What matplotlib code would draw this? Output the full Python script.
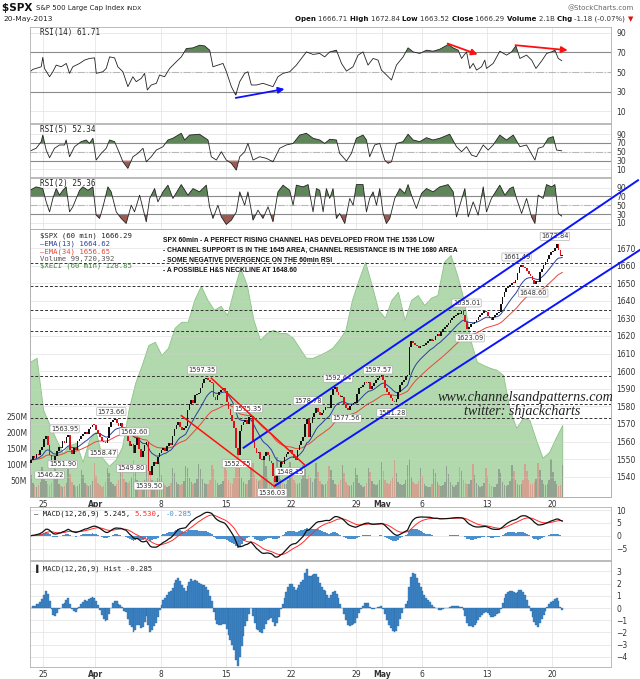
import numpy as np
import pandas as pd
import matplotlib
matplotlib.use('Agg')
import matplotlib.pyplot as plt
from matplotlib import font_manager

# ---- data (hourly SPX bars, 22-Mar-2013 .. 20-May-2013) ----
closes = [
    1549.5, 1551.8, 1550.6, 1553.1, 1552.4, 1555.2, 1556.9,   # Mar 22
    1561.5, 1563.4, 1557.8, 1552.6, 1548.9, 1547.3, 1551.7,   # Mar 25
    1554.8, 1557.1, 1556.2, 1560.2, 1559.0, 1562.4, 1563.8,   # Mar 26
    1555.0, 1553.2, 1556.4, 1555.1, 1560.3, 1561.2, 1562.9,   # Mar 27
    1564.2, 1565.6, 1564.1, 1567.4, 1568.3, 1569.5, 1569.2,   # Mar 28
    1566.3, 1564.8, 1562.7, 1560.5, 1559.6, 1559.2, 1562.2,   # Apr 1
    1568.4, 1571.2, 1572.4, 1572.9, 1570.8, 1569.1, 1570.3,   # Apr 2
    1568.5, 1566.2, 1567.8, 1560.1, 1557.4, 1558.5, 1553.7,   # Apr 3
    1558.3, 1561.8, 1555.6, 1551.2, 1554.5, 1557.8, 1560.0,   # Apr 4
    1543.2, 1540.8, 1545.9, 1548.6, 1547.2, 1551.1, 1553.3,   # Apr 5
    1555.1, 1556.4, 1554.9, 1557.2, 1559.4, 1558.3, 1563.1,   # Apr 8
    1567.2, 1569.5, 1571.0, 1568.3, 1566.4, 1567.5, 1568.6,   # Apr 9
    1578.0, 1581.2, 1583.4, 1582.1, 1586.3, 1587.1, 1587.7,   # Apr 10
    1590.2, 1593.4, 1595.6, 1596.3, 1595.1, 1594.0, 1593.4,   # Apr 11
    1585.3, 1583.9, 1586.7, 1588.0, 1589.1, 1590.2, 1588.9,   # Apr 12
    1582.4, 1578.3, 1575.1, 1571.6, 1567.9, 1556.4, 1552.4,   # Apr 15
    1566.2, 1569.3, 1571.1, 1572.4, 1570.2, 1574.1, 1574.6,   # Apr 16
    1560.3, 1556.1, 1553.4, 1554.2, 1550.3, 1549.4, 1552.0,   # Apr 17
    1554.1, 1552.3, 1549.1, 1547.6, 1540.2, 1537.3, 1541.6,   # Apr 18
    1545.0, 1548.2, 1547.1, 1551.3, 1553.0, 1554.2, 1555.3,   # Apr 19
    1553.1, 1550.9, 1549.3, 1555.2, 1558.1, 1560.4, 1562.5,   # Apr 22
    1570.2, 1573.1, 1562.8, 1570.3, 1574.1, 1576.2, 1578.8,   # Apr 23
    1576.9, 1575.2, 1576.3, 1578.1, 1579.8, 1579.1, 1578.8,   # Apr 24
    1586.2, 1590.1, 1591.2, 1588.1, 1586.3, 1585.1, 1585.2,   # Apr 25
    1581.2, 1579.1, 1578.2, 1580.1, 1581.3, 1582.0, 1582.2,   # Apr 26
    1587.3, 1590.2, 1591.1, 1592.2, 1594.0, 1593.2, 1593.6,   # Apr 29
    1590.1, 1591.3, 1593.2, 1595.1, 1596.2, 1597.0, 1597.6,   # Apr 30
    1595.1, 1590.2, 1588.1, 1586.3, 1585.0, 1583.1, 1582.7,   # May 1
    1584.2, 1588.1, 1592.0, 1594.1, 1595.2, 1597.0, 1597.6,   # May 2
    1614.0, 1617.2, 1616.1, 1615.0, 1614.2, 1613.1, 1614.4,   # May 3
    1614.2, 1615.1, 1616.0, 1617.2, 1618.1, 1617.0, 1617.5,   # May 6
    1620.2, 1621.1, 1620.0, 1622.1, 1624.0, 1625.2, 1626.0,   # May 7
    1627.1, 1629.0, 1630.2, 1631.1, 1632.0, 1633.1, 1632.7,   # May 8
    1634.2, 1632.1, 1628.0, 1624.1, 1625.2, 1627.0, 1626.7,   # May 9
    1628.1, 1629.2, 1631.0, 1632.1, 1633.0, 1634.1, 1633.7,   # May 10
    1631.1, 1630.0, 1629.2, 1631.0, 1632.1, 1633.0, 1633.8,   # May 13
    1638.1, 1642.0, 1645.2, 1647.1, 1648.0, 1649.2, 1650.3,   # May 14
    1650.2, 1652.1, 1656.0, 1659.2, 1660.1, 1659.0, 1658.8,   # May 15
    1657.1, 1655.0, 1654.2, 1652.1, 1649.3, 1651.0, 1650.5,   # May 16
    1656.2, 1658.0, 1660.1, 1662.2, 1664.0, 1666.1, 1667.5,   # May 17
    1668.2, 1670.1, 1672.0, 1669.1, 1665.2, 1666.29,          # May 20
]
first_open = 1548.0

# hourly volume, millions
volumes = [
    70, 45, 38, 32, 36, 48, 95,    80, 50, 42, 38, 45, 60, 110,
    65, 42, 35, 30, 33, 44, 88,    72, 46, 36, 30, 34, 42, 85,
    68, 44, 36, 34, 38, 50, 105,   66, 45, 38, 32, 35, 46, 90,
    75, 48, 40, 34, 40, 52, 98,    82, 55, 46, 44, 50, 62, 115,
    78, 52, 40, 36, 42, 54, 100,   110, 70, 52, 45, 48, 58, 108,
    70, 45, 36, 30, 34, 44, 90,    74, 48, 40, 36, 40, 50, 96,
    90, 58, 46, 40, 44, 56, 104,   86, 55, 44, 40, 42, 52, 100,
    88, 54, 44, 38, 40, 50, 98,    84, 52, 44, 42, 60, 95, 130,
    90, 58, 46, 40, 42, 52, 100,   105, 68, 55, 50, 54, 64, 120,
    96, 62, 50, 46, 58, 72, 125,   92, 56, 44, 40, 42, 52, 110,
    80, 52, 44, 40, 44, 56, 100,   88, 55, 70, 60, 48, 56, 105,
    78, 50, 40, 36, 40, 50, 96,    84, 54, 42, 38, 42, 52, 100,
    76, 48, 38, 34, 38, 48, 92,    70, 44, 36, 30, 34, 44, 90,
    78, 50, 40, 36, 40, 52, 110,   82, 54, 44, 40, 50, 62, 115,
    74, 48, 40, 36, 40, 52, 100,   120, 64, 48, 40, 42, 50, 92,
    66, 42, 34, 30, 32, 42, 86,    74, 48, 38, 34, 38, 48, 96,
    72, 46, 36, 32, 36, 46, 94,    80, 52, 44, 40, 42, 52, 102,
    70, 44, 36, 32, 34, 44, 90,    66, 42, 34, 30, 32, 42, 88,
    76, 48, 38, 34, 38, 50, 100,   82, 52, 42, 38, 42, 54, 104,
    80, 52, 42, 40, 46, 56, 106,   84, 54, 42, 36, 40, 52, 120,
    78, 50, 40, 34, 38, 100,
]

# $XELI (60 min) overlay, sampled twice a day
xeli = [
    130.43, 130.53, 129.23, 128.85, 128.48, 128.15, 128.35, 128.40, 127.93, 128.48,
    128.68, 128.03, 127.83, 127.98, 128.30, 129.23, 129.90, 130.35, 130.85, 130.93,
    130.60, 130.78, 131.28, 131.43, 131.43, 131.98, 132.33, 131.98, 131.73, 131.83,
    131.60, 132.23, 132.78, 132.35, 131.48, 130.98, 131.15, 131.23, 131.15, 131.15,
    131.03, 130.78, 130.53, 130.53, 130.60, 130.68, 130.78, 130.98, 131.23, 131.98,
    132.48, 132.93, 132.35, 131.73, 131.53, 131.98, 132.18, 131.48, 131.98, 132.10,
    131.85, 132.03, 132.10, 132.93, 133.10, 132.60, 131.98, 130.98, 130.43, 130.35,
    130.28, 130.23, 130.10, 129.23, 128.78, 129.03, 128.98, 128.48, 128.03, 128.18,
    128.53, 128.85,
]

# RSI readings: (trading day, value)
rsi14_days = [0.0, 0.21, 0.86, 0.98, 1.11, 1.50, 1.75, 2.01, 2.39, 2.78, 3.03, 3.28, 3.80, 4.18,
              4.56, 4.95, 5.08, 5.58, 5.84, 6.10, 6.48, 6.73, 7.12, 7.50, 7.88, 8.14, 8.53, 8.78,
              8.99, 9.29, 9.68, 9.93, 10.31, 10.70, 11.21, 11.60, 11.98, 12.48, 13.00, 13.38,
              13.77, 14.02, 14.40, 14.79, 15.05, 15.43, 15.76, 16.07, 16.45, 16.70, 16.96,
              17.35, 17.85, 18.24, 18.62, 19.00, 19.39, 19.90, 20.41, 20.80, 21.18, 21.69,
              22.20, 22.58, 22.97, 23.48, 23.87, 24.25, 24.75, 25.14, 25.52, 25.90, 26.29,
              26.67, 26.93, 27.32, 27.70, 28.08, 28.59, 28.97, 29.36, 29.87, 30.38, 30.89,
              31.40, 32.04, 32.42, 32.81, 33.07, 33.45, 33.70, 33.96, 34.22, 34.60, 34.85,
              34.98, 35.49, 36.00, 36.52, 36.90, 37.23, 37.54, 38.05, 38.44, 38.77, 39.20,
              39.59, 39.97, 40.22, 40.48, 40.74]
rsi14_vals = [50.3, 52.7, 55.4, 65.0, 53.7, 45.2, 50.3, 57.1, 55.4, 58.8, 48.7, 55.4, 58.8, 62.2,
              63.9, 64.5, 48.7, 50.3, 53.7, 65.5, 64.5, 55.4, 50.3, 35.1, 45.2, 40.2, 43.6, 48.7,
              31.7, 36.8, 38.5, 47.0, 45.2, 53.7, 60.5, 65.5, 74.0, 74.7, 77.4, 76.7,
              72.3, 55.4, 57.1, 58.8, 50.3, 35.1, 26.6, 40.2, 48.7, 50.3, 36.8,
              36.8, 38.5, 36.8, 35.1, 45.2, 48.7, 50.3, 57.1, 63.9, 70.6, 68.0,
              69.0, 65.5, 70.6, 72.3, 58.8, 51.0, 55.4, 67.3, 70.6, 57.1, 63.9,
              62.2, 52.0, 47.0, 41.9, 57.1, 65.5, 74.7, 70.6, 69.0, 72.3, 71.3,
              73.3, 78.1, 74.7, 72.3, 63.9, 70.6, 53.7, 58.8, 52.0, 55.4, 62.2,
              53.7, 58.8, 71.3, 67.3, 70.6, 76.7, 63.9, 67.3, 62.2, 53.7, 61.2,
              69.0, 70.6, 72.3, 63.9, 61.7]

rsi5_days = [0.0, 0.47, 0.86, 0.98, 1.24, 1.50, 1.88, 2.26, 2.65, 2.77, 3.03, 3.41, 3.92, 4.31,
             4.56, 4.82, 5.07, 5.46, 5.84, 6.10, 6.48, 6.86, 7.12, 7.50, 7.89, 8.27, 8.66, 8.91,
             9.29, 9.68, 10.19, 10.57, 10.95, 11.59, 11.85, 12.23, 12.99, 13.64, 13.89, 14.28,
             14.66, 15.04, 15.43, 15.81, 16.07, 16.45, 16.70, 17.09, 17.60, 18.11, 18.62, 19.13,
             19.64, 20.16, 20.67, 21.18, 21.69, 22.20, 22.58, 22.97, 23.48, 23.73, 24.25, 24.63,
             25.01, 25.52, 25.78, 26.03, 26.41, 26.80, 27.18, 27.44, 27.70, 28.08, 28.59, 28.97,
             29.36, 29.87, 30.38, 30.89, 31.40, 32.16, 32.68, 33.07, 33.45, 33.83, 34.21, 34.73,
             35.11, 35.49, 36.00, 36.51, 37.03, 37.54, 38.05, 38.69, 38.94, 39.32, 39.71, 40.09,
             40.35, 40.74]
rsi5_vals = [51.8, 58.0, 73.0, 88.0, 54.0, 36.6, 58.0, 65.5, 65.5, 76.8, 38.9, 61.6, 73.0, 76.8,
             69.0, 80.7, 31.4, 46.6, 58.0, 76.8, 73.0, 46.6, 27.5, 12.5, 38.9, 46.6, 58.0, 27.5,
             38.9, 54.0, 61.6, 76.8, 80.7, 92.0, 76.8, 88.0, 89.8, 76.8, 38.9, 31.4,
             50.2, 31.4, 23.9, 8.6, 38.9, 50.2, 69.0, 31.4, 38.9, 35.2, 27.5, 58.0,
             65.5, 69.0, 88.0, 92.0, 80.7, 76.8, 69.0, 78.4, 76.8, 46.6, 29.0, 46.6,
             80.7, 88.0, 76.8, 38.9, 65.5, 69.0, 31.4, 23.9, 27.5, 69.0, 73.0, 89.8,
             76.8, 73.0, 82.0, 76.8, 80.7, 89.8, 61.6, 50.2, 61.6, 42.7, 38.9, 65.5,
             54.0, 65.5, 88.0, 76.8, 88.0, 61.6, 65.5, 31.4, 58.0, 61.6, 80.7, 84.4,
             54.0, 52.3]

rsi2_days = [0.0, 0.47, 0.98, 1.24, 1.50, 1.75, 2.01, 2.26, 2.52, 2.77, 3.03, 3.28, 3.80, 4.05,
             4.44, 4.82, 5.07, 5.33, 5.59, 5.97, 6.22, 6.61, 6.99, 7.37, 7.76, 8.01, 8.40, 8.91,
             9.17, 9.55, 9.80, 10.19, 10.57, 10.95, 11.59, 12.10, 12.49, 12.99, 13.51, 13.76,
             14.02, 14.40, 14.66, 15.04, 15.43, 15.81, 16.07, 16.45, 16.70, 17.09, 17.47, 17.85,
             18.24, 18.62, 19.00, 19.39, 19.90, 20.16, 20.41, 20.92, 21.31, 21.69, 21.95, 22.20,
             22.46, 22.71, 22.97, 23.22, 23.48, 23.73, 24.12, 24.50, 24.76, 25.01, 25.52, 25.78,
             26.03, 26.29, 26.55, 26.80, 27.06, 27.31, 27.57, 27.95, 28.34, 28.72, 28.97, 29.23,
             29.61, 30.00, 30.38, 30.89, 31.40, 32.04, 32.43, 32.68, 32.94, 33.32, 33.58, 33.96,
             34.34, 34.73, 34.98, 35.36, 35.75, 36.00, 36.39, 36.77, 37.03, 37.28, 37.67, 38.05,
             38.43, 38.69, 38.94, 39.32, 39.58, 39.97, 40.22, 40.48, 40.74]
rsi2_vals = [84.0, 91.8, 88.0, 57.7, 35.0, 65.5, 88.0, 73.0, 84.0, 91.8, 35.0, 46.4, 84.0, 91.8,
             84.0, 91.8, 27.5, 20.0, 46.4, 91.8, 80.5, 35.0, 20.0, 8.6, 50.2, 35.0, 73.0, 12.3,
             65.5, 88.0, 57.7, 80.5, 95.7, 65.5, 97.0, 73.0, 88.0, 80.5, 95.7, 46.4,
             20.0, 50.2, 23.6, 6.4, 16.1, 35.0, 80.5, 50.2, 80.5, 16.1, 38.9, 20.0,
             46.4, 12.3, 80.5, 95.7, 84.0, 50.2, 95.7, 91.8, 97.0, 35.0, 88.0, 84.0,
             35.0, 88.0, 65.5, 88.0, 20.0, 31.4, 8.6, 65.5, 50.2, 97.0, 97.0, 35.0,
             65.5, 80.5, 50.2, 88.0, 31.4, 8.6, 20.0, 65.5, 88.0, 76.8, 97.0, 73.0,
             42.7, 76.8, 88.0, 80.5, 91.8, 97.0, 80.5, 23.6, 50.2, 88.0, 23.6, 57.7,
             27.5, 91.8, 35.0, 65.5, 84.0, 95.7, 73.0, 88.0, 91.8, 65.5, 31.4, 65.5,
             23.6, 8.6, 73.0, 65.5, 97.0, 91.8, 97.0, 31.4, 25.4]

# price labels: (trading-day position, price position, text)
label_days = [1.5, 2.65, 2.5, 5.58, 6.23, 8.0, 7.76, 9.09, 13.18, 16.7, 15.86, 18.57,
              19.9, 21.3, 23.6, 24.25, 26.67, 27.7, 33.45, 33.7, 37.28, 38.56, 40.22]
label_prices = [1541.0, 1567.2, 1547.1, 1553.4, 1577.0, 1565.5, 1544.8, 1534.8, 1600.7,
                1578.7, 1547.4, 1531.0, 1542.9, 1583.2, 1596.0, 1573.2, 1600.7, 1576.4,
                1638.75, 1618.9, 1664.9, 1644.4, 1676.6]
label_texts = ['1546.22', '1563.95', '1551.90', '1558.47', '1573.66', '1562.60', '1549.80',
               '1539.50', '1597.35', '1575.35', '1552.75', '1536.03', '1548.15', '1578.78',
               '1592.64', '1577.56', '1597.57', '1581.28', '1635.01', '1623.09', '1661.49',
               '1648.60', '1672.84']

levels = [1661.49, 1648.60, 1635.01, 1623.09, 1597.46, 1581.28, 1573.66]

tick_days = [1, 5, 10, 15, 20, 25, 27, 30, 35, 40]
tick_names = ['25', 'Apr', '8', '15', '22', '29', 'May', '6', '13', '20']

notes = ['SPX 60min - A PERFECT RISING CHANNEL HAS DEVELOPED FROM THE 1536 LOW',
         '- CHANNEL SUPPORT IS IN THE 1645 AREA, CHANNEL RESISTANCE IS IN THE 1680 AREA',
         '- SOME NEGATIVE DIVERGENCE ON THE 60min RSI',
         '- A POSSIBLE H&S NECKLINE AT 1648.60']

# ---- derived series ----
c = np.array(closes)
x = np.array([d + (h + 0.5) / 7 for d in range(41) for h in range(7 if d < 40 else 6)])
o = np.concatenate([[first_open], c[:-1]])
up = c >= o
s = pd.Series(c)
ema13 = s.ewm(span=13, adjust=False).mean()
ema34 = s.ewm(span=34, adjust=False).mean()
macd = s.ewm(span=12, adjust=False).mean() - s.ewm(span=26, adjust=False).mean()
signal = macd.ewm(span=9, adjust=False).mean()
hist = (macd - signal).values

W, H = 640, 679
XMAX = 44.52
fig = plt.figure(figsize=(6.4, 6.79), dpi=100)
fig.patch.set_facecolor('white')
installed = {f.name for f in font_manager.fontManager.ttflist}


def rect(top, bot):
    return [30 / W, 1 - bot / H, 581 / W, (bot - top) / H]


def style(ax, yt, ylim):
    ax.set_xlim(0, XMAX)
    ax.set_ylim(*ylim)
    ax.set_yticks(yt)
    ax.yaxis.tick_right()
    ax.tick_params(axis='y', labelsize=5.5, length=0, pad=4, colors='#333333')
    ax.set_xticks(tick_days)
    ax.tick_params(axis='x', length=0, labelbottom=False)
    ax.grid(True, color='#e2e2e2', lw=0.5)
    ax.set_axisbelow(True)
    for sp in ax.spines.values():
        sp.set_color('#b0b0b0')
        sp.set_linewidth(0.6)


def date_labels(ax):
    ax.set_xticks(tick_days)
    ax.set_xticklabels(tick_names)
    ax.tick_params(axis='x', labelbottom=True, labelsize=5.5, length=0, pad=2, colors='#333333')
    for t in ax.get_xticklabels():
        if t.get_text() in ('Apr', 'May'):
            t.set_fontweight('bold')


def rsi_panel(ax, days, vals, ylim, label):
    days = np.array(days)
    r = np.array(vals)
    style(ax, [10, 30, 50, 70, 90], ylim)
    ax.axhline(70, color='#8a8a8a', lw=0.8)
    ax.axhline(30, color='#8a8a8a', lw=0.8)
    ax.axhline(50, color='#b8b8b8', lw=0.8, ls='-.')
    ax.fill_between(days, r, 70, where=r >= 70, interpolate=True, color='#5f8658', lw=0)
    ax.fill_between(days, r, 30, where=r <= 30, interpolate=True, color='#9b5a52', lw=0)
    ax.plot(days, r, color='#222222', lw=0.6)
    ax.text(0.018, 0.985, label, transform=ax.transAxes, va='top', fontsize=5.5,
            family='DejaVu Sans Mono', color='#222222')


ax14 = fig.add_axes(rect(27, 123))
rsi_panel(ax14, rsi14_days, rsi14_vals, (-2, 96), 'RSI(14) 61.71')
ax5 = fig.add_axes(rect(124, 177))
rsi_panel(ax5, rsi5_days, rsi5_vals, (-7, 113), 'RSI(5) 52.34')
ax2 = fig.add_axes(rect(178, 229))
rsi_panel(ax2, rsi2_days, rsi2_vals, (-4, 112), 'RSI(2) 25.36')

arrow_kw = dict(arrowstyle='-|>', lw=1.3, mutation_scale=9, shrinkA=0, shrinkB=0)
ax14.annotate('', xy=(19.5, 32.7), xytext=(15.76, 23.6), arrowprops=dict(color='#1010ff', **arrow_kw))
ax14.annotate('', xy=(34.3, 68.0), xytext=(32.0, 79.1), arrowprops=dict(color='#ff1010', **arrow_kw))
ax14.annotate('', xy=(41.2, 72.3), xytext=(37.2, 77.4), arrowprops=dict(color='#ff1010', **arrow_kw))

# ---- main price panel ----
ax_a = fig.add_axes(rect(229, 497))
style(ax_a, [], (127.05, 133.75))
ax_a.grid(False)
xeli_x = np.linspace(0, x[-1], len(xeli))
ax_a.fill_between(xeli_x, xeli, 120, color='#b2d9ad', lw=0.6, edgecolor='#8cc286')
date_labels(ax_a)

ax_v = ax_a.twinx()
ax_v.set_xlim(0, XMAX)
ax_v.set_ylim(0, 837.5)
ax_v.yaxis.set_ticks_position('left')
ax_v.set_yticks([50, 100, 150, 200, 250])
ax_v.set_yticklabels(['50M', '100M', '150M', '200M', '250M'])
ax_v.tick_params(axis='y', labelsize=5.5, length=0, pad=2, colors='#333333')
ax_v.bar(x, volumes, width=0.8 / 7, color=np.where(up, '#8e9a8c', '#d99a8c'), alpha=0.85, lw=0)
for sp in ax_v.spines.values():
    sp.set_visible(False)

ax_p = ax_a.twinx()
style(ax_p, np.arange(1540, 1671, 10), (1528.5, 1680.8))
ax_p.grid(True, color='#d0d0d0', lw=0.5, alpha=0.6)
for lv in levels:
    ax_p.axhline(lv, color='#333333', lw=0.7, ls=(0, (3, 2)), zorder=2)
ax_p.plot(x, ema34, color='#e8453c', lw=0.7, zorder=3)
ax_p.plot(x, ema13, color='#2c3e9c', lw=0.7, zorder=3)
body = np.maximum(np.abs(c - o), 0.6)
ax_p.bar(x, body, bottom=np.minimum(c, o), width=0.9 / 7,
         color=np.where(up, '#111111', '#e0101a'), lw=0, zorder=4)
for dx, py, t in zip(label_days, label_prices, label_texts):
    ax_p.text(dx, py, t, ha='center', va='center', fontsize=4.8, color='#333333', zorder=6,
              bbox=dict(boxstyle='round,pad=0.15', fc='white', ec='#a0a0a0', lw=0.4))

# channels
ax_p.plot([16.37, 46.59], [1556.5, 1708.5], color='#0a14ff', lw=1.4, clip_on=False, zorder=7)
ax_p.plot([18.75, 46.74], [1534.8, 1668.9], color='#0a14ff', lw=1.4, clip_on=False, zorder=7)
ax_p.plot([13.9, 21.05], [1596.0, 1546.7], color='#ff1010', lw=1.1, zorder=7)
ax_p.plot([11.6, 18.75], [1574.7, 1534.4], color='#ff1010', lw=1.1, zorder=7)

# legend lines in main panel
mono = dict(family='DejaVu Sans Mono', fontsize=5.2, va='center')
fig.text(40 / W, 1 - 236 / H, '$SPX (60 min) 1666.29', color='#222222', **mono)
fig.text(40 / W, 1 - 244 / H, '\u2014EMA(13) 1664.62', color='#2c3e9c', **mono)
fig.text(40 / W, 1 - 252 / H, '\u2014EMA(34) 1656.65', color='#e8453c', **mono)
fig.text(40 / W, 1 - 259 / H, 'Volume 99,720,392', color='#555555', **mono)
fig.text(40 / W, 1 - 266 / H, '$XELI (60 min) 128.85', color='#3d8a3d', **mono)

if 'Liberation Sans Narrow' in installed:
    note_font, note_size = 'Liberation Sans Narrow', 5.8
else:
    note_font, note_size = 'Liberation Sans', 4.85
for i, line in enumerate(notes):
    fig.text(163 / W, 1 - (240 + 10.3 * i) / H, line, family=note_font, fontsize=note_size,
             weight='bold', va='center', color='#111111')

fig.text(526 / W, 1 - 397 / H, 'www.channelsandpatterns.com', ha='center', va='center',
         family=['Liberation Serif', 'DejaVu Serif'], style='italic', fontsize=10.2, color='#222222')
fig.text(522 / W, 1 - 411 / H, 'twitter: shjackcharts', ha='center', va='center',
         family=['Liberation Serif', 'DejaVu Serif'], style='italic', fontsize=10.2, color='#222222')

# ---- MACD panels ----
ax_m = fig.add_axes(rect(507, 560))
style(ax_m, [-5, 0, 5, 10], (-9.5, 11.25))
ax_m.bar(x, hist, width=1 / 7, color='#4a90cf', lw=0)
ax_m.plot(x, signal, color='#ff2a2a', lw=0.7)
ax_m.plot(x, macd, color='#111111', lw=0.9)

ax_h = fig.add_axes(rect(561, 667))
style(ax_h, [-4, -3, -2, -1, 0, 1, 2, 3], (-4.82, 3.84))
ax_h.bar(x, hist, width=1 / 7, color='#3f86c8', edgecolor='#24649f', lw=0.25)
date_labels(ax_h)
fig.text(34 / W, 1 - 569 / H, '\u2590 MACD(12,26,9) Hist -0.285', color='#222222', **mono)

fig.canvas.draw()
rend = fig.canvas.get_renderer()


def seq_text(x_px, y_px, pieces, align='left', **kw):
    # pieces: (text, colour, weight, size)
    made = []
    for txt, color, weight, size in pieces:
        t = fig.text(0, 1 - y_px / H, txt, color=color, weight=weight, fontsize=size,
                     va='center', **kw)
        made.append((t, t.get_window_extent(renderer=rend).width))
    if align == 'right':
        x_px -= sum(wd for _, wd in made)
    for t, wd in made:
        t.set_x(x_px / W)
        x_px += wd


seq_text(34, 514, [('\u2014 MACD(12,26,9) 5.245, ', '#111111', 'normal', 5.2),
                   ('5.530', '#ff2a2a', 'normal', 5.2), (', ', '#111111', 'normal', 5.2),
                   ('-0.285', '#4a90cf', 'normal', 5.2)], family='DejaVu Sans Mono')

# ---- header ----
seq_text(2, 8, [('$SPX ', '#111111', 'bold', 7.5),
                ('S&P 500 Large Cap Index ', '#222222', 'normal', 5.0),
                ('INDX', '#222222', 'normal', 4.4)])
fig.text(3 / W, 1 - 19 / H, '20-May-2013', fontsize=5.4, va='center', color='#222222')
fig.text(634 / W, 1 - 8 / H, '@StockCharts.com', fontsize=5.0, ha='right', va='center', color='#666666')
seq_text(633, 19, [('Open ', '#111111', 'bold', 5.0), ('1666.71 ', '#333333', 'normal', 5.0),
                   ('High ', '#111111', 'bold', 5.0), ('1672.84 ', '#333333', 'normal', 5.0),
                   ('Low ', '#111111', 'bold', 5.0), ('1663.52 ', '#333333', 'normal', 5.0),
                   ('Close ', '#111111', 'bold', 5.0), ('1666.29 ', '#333333', 'normal', 5.0),
                   ('Volume ', '#111111', 'bold', 5.0), ('2.1B ', '#333333', 'normal', 5.0),
                   ('Chg ', '#111111', 'bold', 5.0), ('-1.18 (-0.07%) ', '#333333', 'normal', 5.0),
                   ('\u25bc', '#e01010', 'normal', 5.0)], align='right')

fig.savefig('out.png', dpi=100)
